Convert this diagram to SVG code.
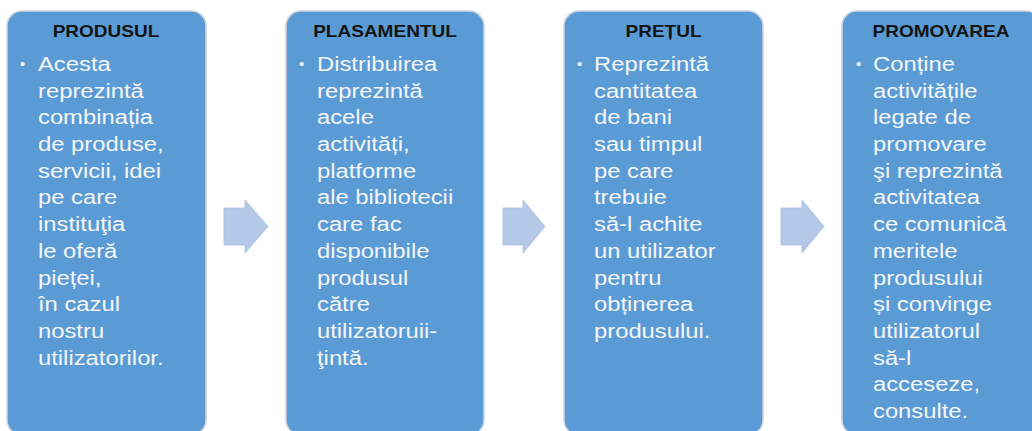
<svg xmlns="http://www.w3.org/2000/svg" width="1032" height="431" viewBox="0 0 1032 431">
<style>
.box{fill:#5B9BD5;stroke:#cdd5de;stroke-width:1.5}
.hdr{font-family:"Liberation Sans",Arial,sans-serif;font-weight:bold;font-size:17px;fill:#141414;text-anchor:middle}
.body{font-family:"Liberation Sans",Arial,sans-serif;font-size:20px;fill:#F4F6F8}
.bul{font-family:"Liberation Sans",Arial,sans-serif;font-size:15px;fill:#F4F6F8}
.arr{fill:#B4C8E7;stroke:#a9bedf;stroke-width:0.8}
</style>
<rect width="1032" height="431" fill="#ffffff"/>
<g id="connectors">
<polygon class="arr" points="224,208 245,208 245,200 268,226.5 245,253 245,245 224,245"/>
<polygon class="arr" points="503,208 523,208 523,200 545,226.5 523,253 523,245 503,245"/>
<polygon class="arr" points="781,208 802,208 802,200 824,226.5 802,253 802,245 781,245"/>
</g>
<g id="produsul">
<rect class="box" x="7" y="11" width="199" height="424" rx="15"/>
<text class="hdr" transform="translate(106 36.5) scale(1.12 1)">PRODUSUL</text>
<text class="bul" x="20" y="69">•</text>
<text class="body" transform="translate(38 0) scale(1.19 1)"><tspan x="0" y="71">Acesta</tspan><tspan x="0" y="97.7">reprezintă</tspan><tspan x="0" y="124.4">combinația</tspan><tspan x="0" y="151.1">de produse,</tspan><tspan x="0" y="177.8">servicii, idei</tspan><tspan x="0" y="204.5">pe care</tspan><tspan x="0" y="231.2">instituţia</tspan><tspan x="0" y="257.9">le oferă</tspan><tspan x="0" y="284.6">pieței,</tspan><tspan x="0" y="311.3">în cazul</tspan><tspan x="0" y="338">nostru</tspan><tspan x="0" y="364.7">utilizatorilor.</tspan></text>
</g>
<g id="plasamentul">
<rect class="box" x="286" y="11" width="198" height="424" rx="15"/>
<text class="hdr" transform="translate(385 36.5) scale(1.12 1)">PLASAMENTUL</text>
<text class="bul" x="299" y="69">•</text>
<text class="body" transform="translate(317 0) scale(1.19 1)"><tspan x="0" y="71">Distribuirea</tspan><tspan x="0" y="97.7">reprezintă</tspan><tspan x="0" y="124.4">acele</tspan><tspan x="0" y="151.1">activități,</tspan><tspan x="0" y="177.8">platforme</tspan><tspan x="0" y="204.5">ale bibliotecii</tspan><tspan x="0" y="231.2">care fac</tspan><tspan x="0" y="257.9">disponibile</tspan><tspan x="0" y="284.6">produsul</tspan><tspan x="0" y="311.3">către</tspan><tspan x="0" y="338">utilizatoruii-</tspan><tspan x="0" y="364.7">ţintă.</tspan></text>
</g>
<g id="pretul">
<rect class="box" x="564" y="11" width="199" height="424" rx="15"/>
<text class="hdr" transform="translate(663.5 36.5) scale(1.12 1)">PREȚUL</text>
<text class="bul" x="577" y="69">•</text>
<text class="body" transform="translate(594 0) scale(1.19 1)"><tspan x="0" y="71">Reprezintă</tspan><tspan x="0" y="97.7">cantitatea</tspan><tspan x="0" y="124.4">de bani</tspan><tspan x="0" y="151.1">sau timpul</tspan><tspan x="0" y="177.8">pe care</tspan><tspan x="0" y="204.5">trebuie</tspan><tspan x="0" y="231.2">să-l achite</tspan><tspan x="0" y="257.9">un utilizator</tspan><tspan x="0" y="284.6">pentru</tspan><tspan x="0" y="311.3">obținerea</tspan><tspan x="0" y="338">produsului.</tspan></text>
</g>
<g id="promovarea">
<rect class="box" x="842" y="11" width="199" height="424" rx="15"/>
<text class="hdr" transform="translate(941 36.5) scale(1.12 1)">PROMOVAREA</text>
<text class="bul" x="856" y="69">•</text>
<text class="body" transform="translate(873 0) scale(1.19 1)"><tspan x="0" y="71">Conține</tspan><tspan x="0" y="97.7">activitățile</tspan><tspan x="0" y="124.4">legate de</tspan><tspan x="0" y="151.1">promovare</tspan><tspan x="0" y="177.8">şi reprezintă</tspan><tspan x="0" y="204.5">activitatea</tspan><tspan x="0" y="231.2">ce comunică</tspan><tspan x="0" y="257.9">meritele</tspan><tspan x="0" y="284.6">produsului</tspan><tspan x="0" y="311.3">și convinge</tspan><tspan x="0" y="338">utilizatorul</tspan><tspan x="0" y="364.7">să-l</tspan><tspan x="0" y="391.4">acceseze,</tspan><tspan x="0" y="418.1">consulte.</tspan></text>
</g>
</svg>
